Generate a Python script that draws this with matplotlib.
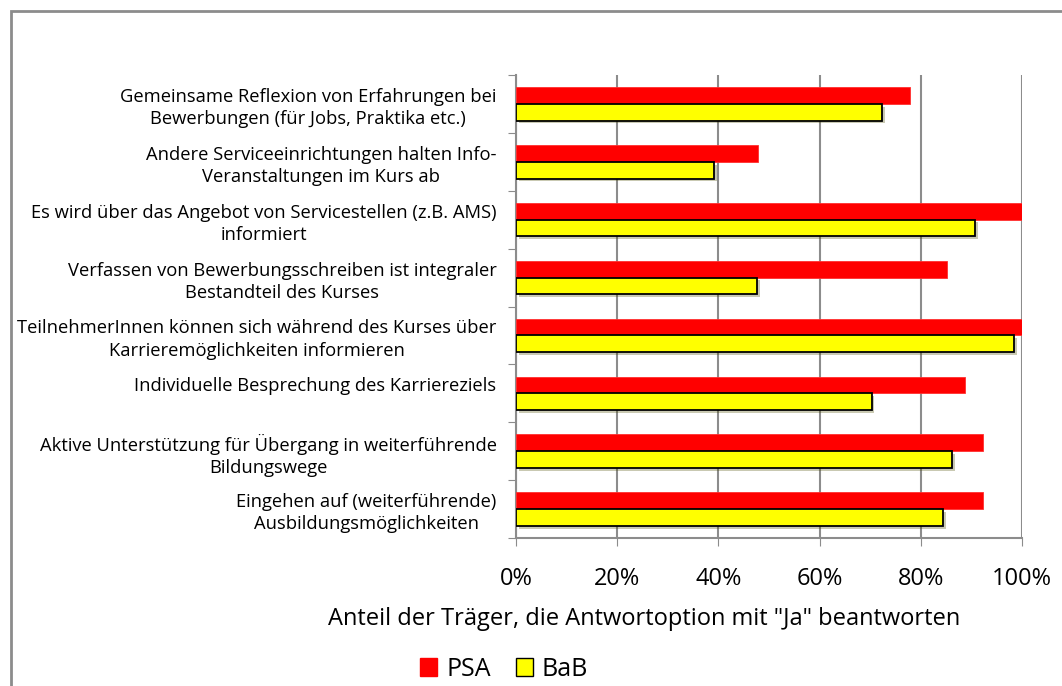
import numpy as np
import matplotlib
matplotlib.use('Agg')
from matplotlib import pyplot as plt
from matplotlib import patheffects as pe
from matplotlib.patches import Rectangle, Patch

plt.rcParams['font.family'] = ['Open Sans', 'DejaVu Sans']

categories = [
    'Gemeinsame Reflexion von Erfahrungen bei\nBewerbungen (für Jobs, Praktika etc.)',
    'Andere Serviceeinrichtungen halten Info-\nVeranstaltungen im Kurs ab',
    'Es wird über das Angebot von Servicestellen (z.B. AMS)\ninformiert',
    'Verfassen von Bewerbungsschreiben ist integraler\nBestandteil des Kurses',
    'TeilnehmerInnen können sich während des Kurses über\nKarrieremöglichkeiten informieren',
    'Individuelle Besprechung des Karriereziels\n',
    'Aktive Unterstützung für Übergang in weiterführende\nBildungswege',
    'Eingehen auf (weiterführende)\nAusbildungsmöglichkeiten',
]
psa = [77.8, 47.9, 100.0, 85.1, 100.0, 88.8, 92.2, 92.2]
bab = [72.3, 39.1, 90.8, 47.6, 98.5, 70.3, 86.2, 84.4]
xticks = [0, 20, 40, 60, 80, 100]

fig = plt.figure(figsize=(10.62, 6.86), dpi=100)
# outer chart border
fig.patches.append(Rectangle((11/1062, -0.1), 1.2, 1 - 11/686 + 0.1,
                             transform=fig.transFigure, fill=False,
                             edgecolor='#8c8c8c', linewidth=2, zorder=0))

ax = fig.add_axes([516/1062, 1 - 538/686, 506/1062, 463/686])
y = np.arange(len(categories))
h = 0.29
shadow = [pe.SimplePatchShadow(offset=(2, -2), alpha=0.3), pe.Normal()]
ax.barh(y - h/2, psa, height=h, color='#ff0000', edgecolor='#ff3030', linewidth=0.6, zorder=3)
ax.barh(y + h/2, bab, height=h, color='#ffff00', edgecolor='black', linewidth=1.3, zorder=3,
        path_effects=shadow)

ax.set_xlim(0, 100)
ax.set_ylim(len(categories) - 0.5, -0.5)
ax.set_xticks(xticks)
ax.set_xticklabels([f'{t}%' for t in xticks], fontsize=17)
ax.tick_params(axis='x', length=6, color='#8c8c8c', pad=15)
ax.xaxis.grid(True, color='#8c8c8c', linewidth=1.5, zorder=0)

ax.set_yticks(np.arange(len(categories) + 1) - 0.5)
ax.set_yticklabels([])
ax.tick_params(axis='y', which='major', length=6, color='#8c8c8c')
ax.set_yticks(y, minor=True)
ax.set_yticklabels(categories, minor=True, fontsize=13.2, linespacing=1.3)
for lbl in ax.get_yticklabels(minor=True):
    lbl.set_multialignment('center')
ax.tick_params(axis='y', which='minor', length=0, pad=14)

for s in ['top', 'right']:
    ax.spines[s].set_visible(False)
for s in ['left', 'bottom']:
    ax.spines[s].set_color('#8c8c8c')
    ax.spines[s].set_linewidth(1.5)

fig.text(644/1062, 1 - 619/686, 'Anteil der Träger, die Antwortoption mit "Ja" beantworten',
         fontsize=17, ha='center', va='center')

handles = [Patch(facecolor='#ff0000', edgecolor='#ff0000', label='PSA'),
           Patch(facecolor='#ffff00', edgecolor='black', label='BaB')]
fig.legend(handles=handles, loc='center', bbox_to_anchor=(504/1062, 1 - 669/686), ncol=2,
           frameon=False, fontsize=18, handlelength=0.7, handleheight=0.7,
           handletextpad=0.35, columnspacing=1.0)

fig.savefig('out.png', dpi=100)
